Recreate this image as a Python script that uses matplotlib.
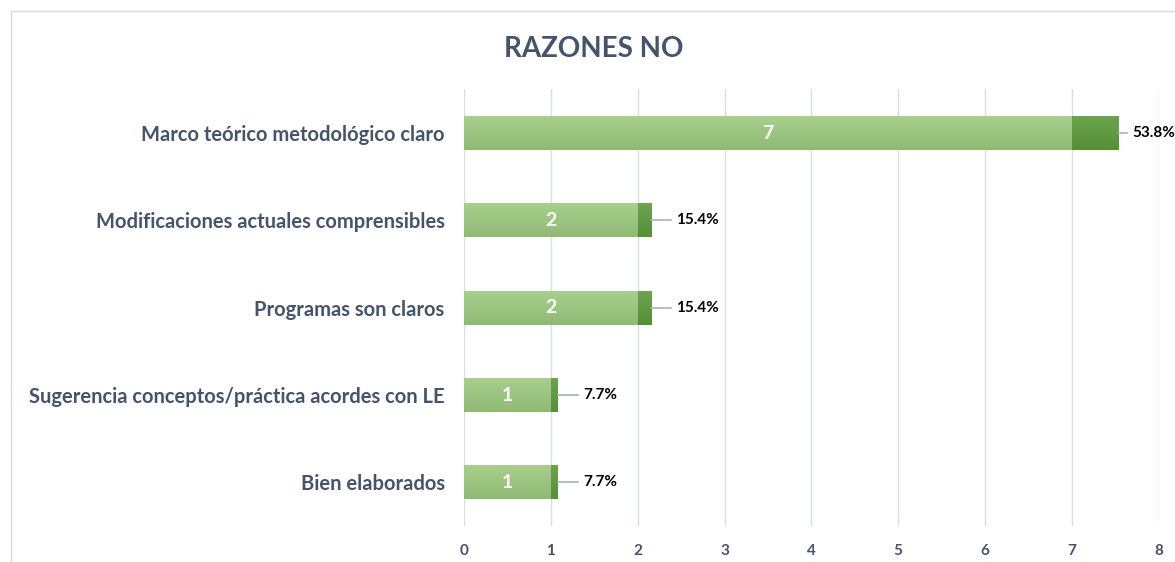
import matplotlib.pyplot as plt
import numpy as np
from matplotlib.colors import LinearSegmentedColormap
from matplotlib.patches import Rectangle

categories = [
    "Marco teórico metodológico claro",
    "Modificaciones actuales comprensibles",
    "Programas son claros",
    "Sugerencia conceptos/práctica acordes con LE",
    "Bien elaborados",
]
counts = [7, 2, 2, 1, 1]
percents = [53.8, 15.4, 15.4, 7.7, 7.7]

plt.rcParams["font.family"] = ["Lato", "DejaVu Sans"]
label_color = "#44546A"

fig = plt.figure(figsize=(11.75, 5.62), dpi=100)
ax = fig.add_axes([0.395, 0.064, 0.591, 0.777])

y = np.arange(len(categories))[::-1]
bar_h = 0.39

# gradient fill for the bar segments
grad = np.linspace(0, 1, 64).reshape(-1, 1)
light_cmap = LinearSegmentedColormap.from_list("lg", ["#A9D08E", "#8FBA74"])
dark_cmap = LinearSegmentedColormap.from_list("dg", ["#6EA450", "#568F36"])

for yi, c, p in zip(y, counts, percents):
    w2 = p / 100
    bars = ax.barh(yi, c, height=bar_h, color="none", edgecolor="none")
    im = ax.imshow(grad, cmap=light_cmap, aspect="auto",
                   extent=[0, c, yi - bar_h / 2, yi + bar_h / 2], zorder=2)
    im.set_clip_path(bars[0])
    bars2 = ax.barh(yi, w2, left=c, height=bar_h, color="none", edgecolor="none")
    im2 = ax.imshow(grad, cmap=dark_cmap, aspect="auto",
                    extent=[c, c + w2, yi - bar_h / 2, yi + bar_h / 2], zorder=2)
    im2.set_clip_path(bars2[0])
    ax.text(c / 2, yi, str(c), ha="center", va="center", color="white",
            fontsize=14, fontweight="bold", zorder=3)
    end = c + w2
    gap = 0.1 if c >= 7 else 0.23
    ax.plot([end, end + gap], [yi, yi], color="#A6B0BE", lw=1.2, zorder=3,
            clip_on=False)
    ax.text(end + gap + 0.06, yi, f"{p:.1f}%", ha="left", va="center",
            color="black", fontsize=11, fontweight="bold", zorder=3)

ax.set_xlim(0, 8)
ax.set_ylim(-0.5, 4.5)
ax.set_xticks(range(9))
ax.set_yticks(y)
ax.set_yticklabels(categories)
ax.grid(axis="x", color="#D9DEE6", lw=1)
ax.set_axisbelow(True)
for s in ax.spines.values():
    s.set_visible(False)
ax.tick_params(length=0)
ax.tick_params(axis="y", pad=14, labelsize=14.5, labelcolor=label_color)
ax.tick_params(axis="x", pad=13, labelsize=11, labelcolor=label_color)
for t in ax.get_yticklabels() + ax.get_xticklabels():
    t.set_fontweight("bold")

fig.text(0.505, 0.913, "RAZONES NO", ha="center", va="center",
         fontsize=20, fontweight="bold", color=label_color)

fig.add_artist(Rectangle((0.009, -0.01), 1.1, 0.99, transform=fig.transFigure,
                         fill=False, edgecolor="#D9D9D9", lw=1))

fig.savefig("out.png", dpi=100)
